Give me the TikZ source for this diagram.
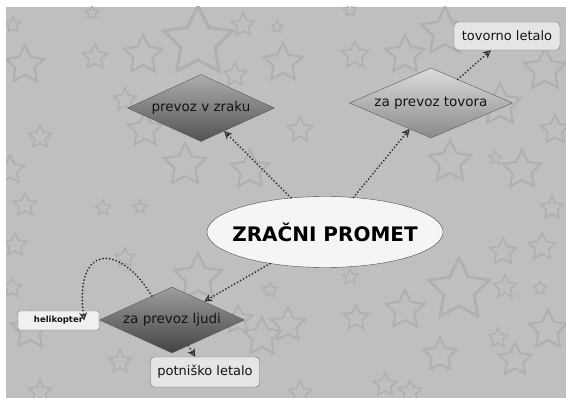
\documentclass[tikz,border=0pt]{standalone}
\usepackage{fontspec}
\setmainfont{DejaVu Sans}
\usetikzlibrary{shapes.geometric,arrows.meta}

\definecolor{fond}{gray}{0.75}
\definecolor{trait}{gray}{0.69}
\definecolor{texte}{gray}{0.08}
\definecolor{fleche}{gray}{0.18}

\begin{document}
\begin{tikzpicture}[x=1pt,y=-1pt]
    \tikzset{etoile/.style={star, star points=5, star point ratio=2, draw=trait, inner sep=0pt}}
    \tikzset{losange/.style={diamond, aspect=2.2, inner sep=0pt, draw=gray!70!black, thin, text=texte, font=\fontsize{13.5}{16}\selectfont}}
    \tikzset{bulle/.style={ellipse, draw=gray!60!black, fill=white!96!black, minimum width=236, minimum height=71, inner sep=0pt, font=\fontsize{20}{24}\selectfont\bfseries}}
    \tikzset{boite/.style={draw=gray!90!black, fill=white!90!black, rounded corners=4pt, text=texte, inner sep=0pt, font=\fontsize{13}{16}\selectfont}}
    \tikzset{lien/.style={fleche, line width=2pt, line cap=round, dash pattern=on 0pt off 3.4pt, -{Stealth[open, length=8pt, width=8pt, line width=1.1pt]}}}
    % fond
    \fill[white] (0,0) rectangle (566,398);
    \fill[fond] (6,7) rectangle (566,398);
    \begin{scope}
    \clip (6,7) rectangle (566,398);
    \foreach \x/\y/\r [count=\i] in {198/42/36, 25/65/20, 95/57/13, 143/55/20, 243/25/12, 92/13/7, 13/25/8, 277/27/6, 283/63/20, 40/137/12, 125/100/12, 145/130/18, 185/165/22, 250/170/20, 235/75/12, 10/170/15, 355/55/14, 405/55/20, 445/32/25, 545/70/22, 300/130/13, 500/105/22, 450/162/22, 522/170/20, 495/158/7, 555/130/15, 350/10/7, 25/205/12, 15/245/12, 103/208/8, 140/207/7, 125/258/10, 12/288/10, 30/330/20, 198/278/25, 120/362/12, 262/337/20, 238/320/15, 270/290/8, 40/392/12, 552/208/12, 503/252/14, 542/247/14, 459/290/32, 505/287/12, 540/288/7, 405/310/20, 356/318/13, 288/325/18, 440/355/18, 515/360/17, 498/338/10, 548/330/20, 385/385/12, 410/392/12, 300/393/12, 350/277/8}
      \node[etoile, minimum size=2*\r, line width=0.06*\r+0.9] (e\i) at (\x,\y) {};
    \end{scope}
    % noeuds
    \node[bulle] (zp) at (325,232) {\makebox[150pt]{ZRAČNI PROMET}};
    \node[losange, minimum width=147, minimum height=67, top color=white!68!black, bottom color=white!32!black] (zraku) at (201,108) {prevoz v zraku};
    \node[losange, minimum width=163, minimum height=70, top color=white!86!black, bottom color=white!54!black] (tovora) at (431,103) {za prevoz tovora};
    \node[losange, minimum width=145, minimum height=66, top color=white!62!black, bottom color=white!26!black] (ljudi) at (172,320) {za prevoz ljudi};
    \node[boite, minimum width=106, minimum height=28] (tovorno) at (507,36) {tovorno letalo};
    \node[boite, minimum width=109, minimum height=30] (potnisko) at (205,372) {potniško letalo};
    \node[boite, fill=white!94!black, minimum width=81, minimum height=19, rounded corners=2pt, font=\fontsize{8.5}{10}\selectfont\bfseries] (heli) at (58.5,320.5) {helikopter};
    % povezave
    \draw[lien] (zp) -- (zraku);
    \draw[lien] (zp) -- (tovora);
    \draw[lien] (zp) -- (ljudi);
    \draw[lien] (tovora) -- (tovorno);
    \draw[lien] (ljudi) -- (potnisko);
    \draw[lien] (ljudi.130) .. controls (120,243) and (74,243) .. ([xshift=-15pt]heli.east);
\end{tikzpicture}
\end{document}
